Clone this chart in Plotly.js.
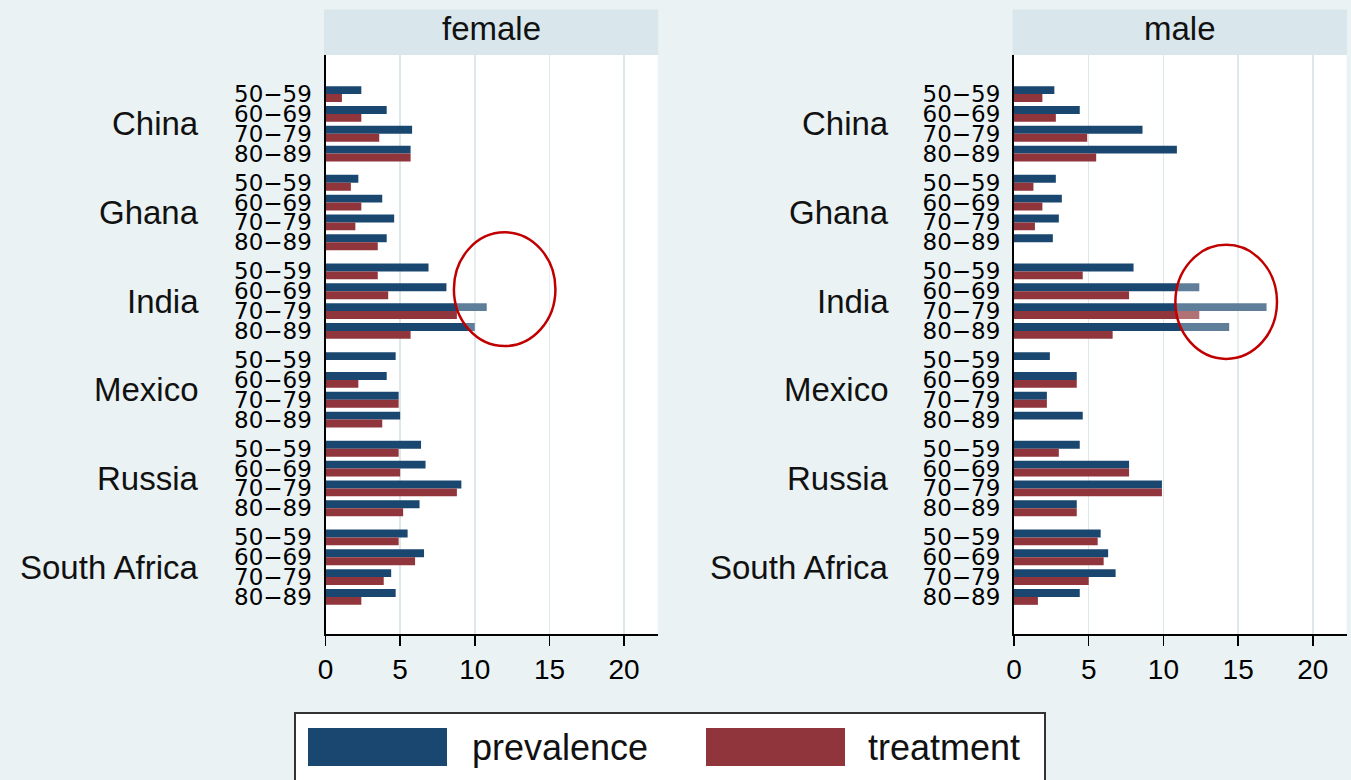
<!DOCTYPE html>
<html>
<head>
<meta charset="utf-8">
<script src="https://cdn.plot.ly/plotly-3.0.1.min.js"></script>
<style>
  html, body { margin: 0; padding: 0; background: #eaf2f3; }
  #chart { width: 1351px; height: 780px; }
</style>
</head>
<body>
<div id="chart"></div>
<script>
// Countries (groups) and age bands (bars inside each group)
const countries = ['China', 'Ghana', 'India', 'Mexico', 'Russia', 'South Africa'];
const ageGroups = ['50−59', '60−69', '70−79', '80−89'];

// Values in %, ordered country by country, age band by age band
const femalePrevalence = [2.4, 4.1, 5.8, 5.7,   2.2, 3.8, 4.6, 4.1,   6.9, 8.1, 10.8, 10.0,
                          4.7, 4.1, 4.9, 5.0,   6.4, 6.7, 9.1, 6.3,   5.5, 6.6, 4.4, 4.7];
const femaleTreatment  = [1.1, 2.4, 3.6, 5.7,   1.7, 2.4, 2.0, 3.5,   3.5, 4.2, 8.8, 5.7,
                          0.0, 2.2, 4.9, 3.8,   4.9, 5.0, 8.8, 5.2,   4.9, 6.0, 3.9, 2.4];
const malePrevalence   = [2.7, 4.4, 8.6, 10.9,  2.8, 3.2, 3.0, 2.6,   8.0, 12.4, 16.9, 14.4,
                          2.4, 4.2, 2.2, 4.6,   4.4, 7.7, 9.9, 4.2,   5.8, 6.3, 6.8, 4.4];
const maleTreatment    = [1.9, 2.8, 4.9, 5.5,   1.3, 1.9, 1.4, 0.0,   4.6, 7.7, 12.4, 6.6,
                          0.0, 4.2, 2.2, 0.0,   3.0, 7.7, 9.9, 4.2,   5.6, 6.0, 5.0, 1.6];

const xTicks = [0, 5, 10, 15, 20];
const panelTitles = ['female', 'male'];
const seriesNames = ['prevalence', 'treatment'];

// Styling
const NAVY = '#1a476f';
const MAROON = '#90353b';
const BG = '#eaf2f3';
const STRIP = '#d9e6eb';
const GRID = '#dde8eb';
const W = 1351, H = 780;
const GROUP_PITCH = 4.47;   // distance between country groups, in age-slot units

// Vertical slot for every (country, age band) bar pair
const slots = [];
const slotLabels = [];
countries.forEach((c, ci) => {
  ageGroups.forEach((a, ai) => {
    slots.push(ci * GROUP_PITCH + ai);
    slotLabels.push(a);
  });
});
const groupCentres = countries.map((c, ci) => ci * GROUP_PITCH + (ageGroups.length - 1) / 2);

const px = v => v / W;            // horizontal pixel -> paper
const py = v => 1 - v / H;        // vertical pixel -> paper

function barTrace(values, name, color, xa, ya, offset) {
  return {
    type: 'bar', orientation: 'h',
    x: values, y: slots, name: name,
    xaxis: xa, yaxis: ya,
    width: 0.4, offset: offset,
    marker: { color: color, line: { width: 0 } },
    showlegend: false,
    hoverinfo: 'x+name'
  };
}

const data = [
  barTrace(femalePrevalence, seriesNames[0], NAVY, 'x', 'y', -0.4),
  barTrace(femaleTreatment, seriesNames[1], MAROON, 'x', 'y', 0),
  barTrace(malePrevalence, seriesNames[0], NAVY, 'x2', 'y2', -0.4),
  barTrace(maleTreatment, seriesNames[1], MAROON, 'x2', 'y2', 0)
];

const FONT = 'Liberation Sans, Arial, sans-serif';

function xAxis(domain, anchor) {
  return {
    domain: domain, anchor: anchor,
    range: [0, 22.25], tickmode: 'array', tickvals: xTicks,
    ticks: 'outside', ticklen: 10, tickwidth: 1.5, tickcolor: '#000',
    showline: true, linecolor: '#000', linewidth: 1.5,
    showgrid: true, gridcolor: GRID, gridwidth: 1.5, zeroline: false,
    tickfont: { family: FONT, size: 28, color: '#000' }
  };
}
function yAxis(anchor) {
  return {
    domain: [py(634), py(55)], anchor: anchor,
    range: [27.22, -1.97],
    tickmode: 'array', tickvals: slots, ticktext: slotLabels,
    ticks: '', ticklabelstandoff: 7,
    showline: true, linecolor: '#000', linewidth: 2,
    showgrid: false, zeroline: false,
    tickfont: { family: 'DejaVu Sans, sans-serif', size: 23, color: '#000' }
  };
}

const panels = [
  { x0: 325.5, x1: 657.7, labelRight: 201, xa: 'x', ya: 'y' },
  { x0: 1014, x1: 1346.5, labelRight: 891, xa: 'x2', ya: 'y2' }
];

const shapes = [];
const annotations = [];

panels.forEach((p, i) => {
  // title strip
  shapes.push({
    type: 'rect', xref: 'paper', yref: 'paper',
    x0: px(p.x0 - 1.5), x1: px(p.x1 + 0.5), y0: py(55), y1: py(9.5),
    fillcolor: STRIP, line: { width: 0 }, layer: 'below'
  });
  annotations.push({
    xref: 'paper', yref: 'paper', x: px((p.x0 + p.x1) / 2), y: py(28.5),
    xanchor: 'center', yanchor: 'middle', showarrow: false,
    text: panelTitles[i], font: { family: FONT, size: 33, color: '#111' }
  });
  // country names
  countries.forEach((c, ci) => {
    annotations.push({
      xref: 'paper', yref: p.ya, x: px(p.labelRight), y: groupCentres[ci],
      xanchor: 'right', yanchor: 'middle', showarrow: false,
      text: c, font: { family: FONT, size: 33, color: '#111' }
    });
  });
});

// Highlight rings around the India bars
shapes.push({
  type: 'circle', xref: 'x', yref: 'y', x0: 8.6, x1: 15.4, y0: 6.97, y1: 12.7,
  line: { color: '#c00000', width: 2.5 }, fillcolor: 'rgba(255,255,255,0.3)', layer: 'above'
});
shapes.push({
  type: 'circle', xref: 'x2', yref: 'y2', x0: 10.8, x1: 17.6, y0: 7.6, y1: 13.35,
  line: { color: '#c00000', width: 2.5 }, fillcolor: 'rgba(255,255,255,0.3)', layer: 'above'
});

// Legend box with large swatches
shapes.push({
  type: 'rect', xref: 'paper', yref: 'paper',
  x0: px(295), x1: px(1045), y0: py(790), y1: py(713),
  fillcolor: '#ffffff', line: { color: '#333', width: 2 }
});
[[308, NAVY, 470, seriesNames[0]], [706, MAROON, 866, seriesNames[1]]].forEach(([sx, col, tx, label]) => {
  shapes.push({
    type: 'rect', xref: 'paper', yref: 'paper',
    x0: px(sx), x1: px(sx + 139), y0: py(766), y1: py(728),
    fillcolor: col, line: { width: 0 }
  });
  annotations.push({
    xref: 'paper', yref: 'paper', x: px(tx), y: py(747),
    xanchor: 'left', yanchor: 'middle', showarrow: false,
    text: label, font: { family: FONT, size: 36, color: '#111' }
  });
});

const layout = {
  width: W, height: H,
  margin: { l: 0, r: 0, t: 0, b: 0 },
  paper_bgcolor: BG, plot_bgcolor: '#ffffff',
  barmode: 'overlay',
  showlegend: false,
  xaxis: xAxis([px(325.5), px(657.7)], 'y'),
  yaxis: yAxis('x'),
  xaxis2: xAxis([px(1014), px(1346.5)], 'y2'),
  yaxis2: yAxis('x2'),
  shapes: shapes,
  annotations: annotations
};

Plotly.newPlot('chart', data, layout, { displayModeBar: false, staticPlot: true });
</script>
</body>
</html>
